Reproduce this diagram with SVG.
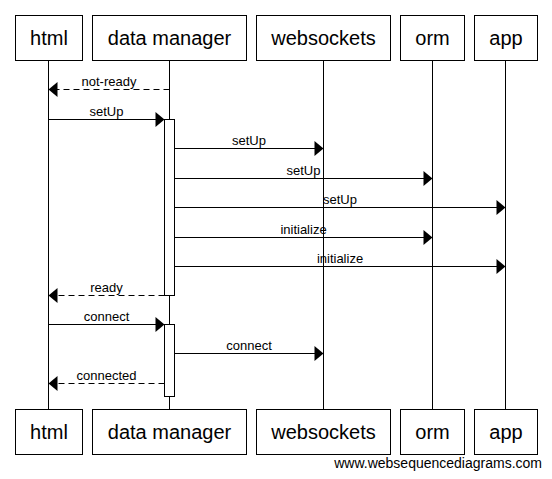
<svg xmlns="http://www.w3.org/2000/svg" width="552" height="479" viewBox="0 0 552 479">
<style>
.box{fill:#fff;stroke:#000;stroke-width:1}
.life{stroke:#000;stroke-width:1;fill:none}
.title{font-family:"Liberation Sans",Arial,sans-serif;font-size:20px;text-anchor:middle;fill:#000}
.msg{stroke:#000;stroke-width:1;fill:none;marker-end:url(#ah)}
.ret{stroke-dasharray:6 4}
.lbl{font-family:"Liberation Sans",Arial,sans-serif;font-size:13px;text-anchor:middle;fill:#000}
.foot{font-family:"Liberation Sans",Arial,sans-serif;font-size:14px;text-anchor:end;fill:#000}
</style>
<defs>
<marker id="ah" markerUnits="userSpaceOnUse" markerWidth="10" markerHeight="16" refX="9" refY="7.5" orient="auto" overflow="visible">
<path d="M0,0 L9,7.5 L0,15 Z" fill="#000" stroke="none"/>
</marker>
</defs>
<rect width="552" height="479" fill="#fff"/>
<g id="html">
<line class="life" x1="48.5" y1="60.5" x2="48.5" y2="409.5"/>
<rect class="box" x="15.5" y="15.5" width="67" height="45"/>
<text class="title" x="49" y="45">html</text>
<rect class="box" x="15.5" y="409.5" width="67" height="45"/>
<text class="title" x="49" y="439">html</text>
</g>
<g id="data-manager">
<line class="life" x1="169.5" y1="60.5" x2="169.5" y2="409.5"/>
<rect class="box" x="92.5" y="15.5" width="154" height="45"/>
<text class="title" x="169.5" y="45">data manager</text>
<rect class="box" x="92.5" y="409.5" width="154" height="45"/>
<text class="title" x="169.5" y="439">data manager</text>
</g>
<g id="websockets">
<line class="life" x1="323.5" y1="60.5" x2="323.5" y2="409.5"/>
<rect class="box" x="256.5" y="15.5" width="134" height="45"/>
<text class="title" x="323.5" y="45">websockets</text>
<rect class="box" x="256.5" y="409.5" width="134" height="45"/>
<text class="title" x="323.5" y="439">websockets</text>
</g>
<g id="orm">
<line class="life" x1="432.5" y1="60.5" x2="432.5" y2="409.5"/>
<rect class="box" x="400.5" y="15.5" width="64" height="45"/>
<text class="title" x="432.5" y="45">orm</text>
<rect class="box" x="400.5" y="409.5" width="64" height="45"/>
<text class="title" x="432.5" y="439">orm</text>
</g>
<g id="app">
<line class="life" x1="505.5" y1="60.5" x2="505.5" y2="409.5"/>
<rect class="box" x="474.5" y="15.5" width="63" height="45"/>
<text class="title" x="506" y="45">app</text>
<rect class="box" x="474.5" y="409.5" width="63" height="45"/>
<text class="title" x="506" y="439">app</text>
</g>
<g id="activations">
<rect class="box" x="164.5" y="119.5" width="10" height="176"/>
<rect class="box" x="164.5" y="324.5" width="10" height="72"/>
</g>
<g id="connectors">
<line class="msg ret" x1="169.5" y1="89.5" x2="48.5" y2="89.5"/>
<text class="lbl" x="109" y="85.5">not-ready</text>
<line class="msg" x1="48.5" y1="119.5" x2="164.5" y2="119.5"/>
<text class="lbl" x="106.5" y="115.5">setUp</text>
<line class="msg" x1="174.5" y1="148.5" x2="323.5" y2="148.5"/>
<text class="lbl" x="249" y="144.5">setUp</text>
<line class="msg" x1="174.5" y1="178.5" x2="432.5" y2="178.5"/>
<text class="lbl" x="303.5" y="174.5">setUp</text>
<line class="msg" x1="174.5" y1="207.5" x2="505.5" y2="207.5"/>
<text class="lbl" x="340" y="203.5">setUp</text>
<line class="msg" x1="174.5" y1="237.5" x2="432.5" y2="237.5"/>
<text class="lbl" x="303.5" y="233.5">initialize</text>
<line class="msg" x1="174.5" y1="266.5" x2="505.5" y2="266.5"/>
<text class="lbl" x="340" y="262.5">initialize</text>
<line class="msg ret" x1="164.5" y1="295.5" x2="48.5" y2="295.5"/>
<text class="lbl" x="106.5" y="291.5">ready</text>
<line class="msg" x1="48.5" y1="324.5" x2="164.5" y2="324.5"/>
<text class="lbl" x="106.5" y="320.5">connect</text>
<line class="msg" x1="174.5" y1="353.5" x2="323.5" y2="353.5"/>
<text class="lbl" x="249" y="349.5">connect</text>
<line class="msg ret" x1="164.5" y1="383.5" x2="48.5" y2="383.5"/>
<text class="lbl" x="106.5" y="379.5">connected</text>
</g>
<text class="foot" x="542" y="468">www.websequencediagrams.com</text>
</svg>
